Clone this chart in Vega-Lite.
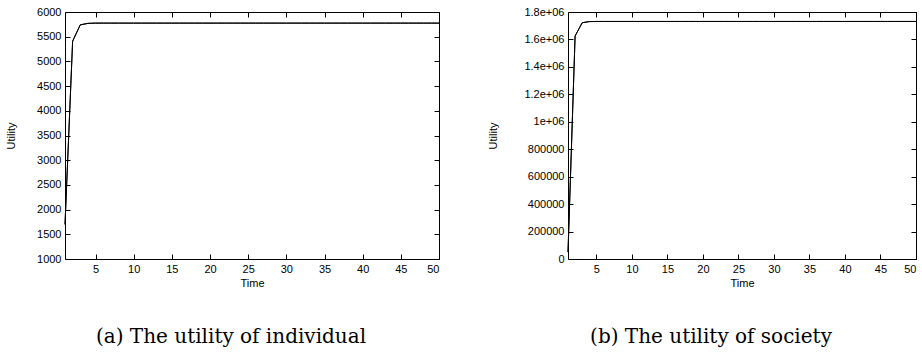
{
  "$schema": "https://vega.github.io/schema/vega-lite/v6.json",
  "background": "white",
  "padding": {"left": 5, "top": 5, "right": 5, "bottom": 0},
  "config": {
    "view": {"stroke": "black", "strokeWidth": 1},
    "font": "Liberation Sans",
    "axis": {
      "domain": false,
      "grid": false,
      "tickColor": "black",
      "tickSize": -5,
      "labelFont": "Liberation Sans",
      "labelFontSize": 11,
      "labelColor": "black",
      "titleFont": "Liberation Sans",
      "titleFontSize": 11,
      "titleFontWeight": "normal",
      "titleColor": "black",
      "labelPadding": 9
    },
    "title": {"font": "DejaVu Serif", "fontSize": 20, "fontWeight": "normal", "color": "black"}
  },
  "data": {"values": [
    {"t":1,"ind":1700,"soc":50000},
    {"t":2,"ind":5410,"soc":1625000},
    {"t":3,"ind":5740,"soc":1722000},
    {"t":4,"ind":5770,"soc":1730000},
    {"t":5,"ind":5775,"soc":1731000},
    {"t":6,"ind":5775,"soc":1731000},
    {"t":7,"ind":5775,"soc":1731000},
    {"t":8,"ind":5775,"soc":1731000},
    {"t":9,"ind":5775,"soc":1731000},
    {"t":10,"ind":5775,"soc":1731000},
    {"t":11,"ind":5775,"soc":1731000},
    {"t":12,"ind":5775,"soc":1731000},
    {"t":13,"ind":5775,"soc":1731000},
    {"t":14,"ind":5775,"soc":1731000},
    {"t":15,"ind":5775,"soc":1731000},
    {"t":16,"ind":5775,"soc":1731000},
    {"t":17,"ind":5775,"soc":1731000},
    {"t":18,"ind":5775,"soc":1731000},
    {"t":19,"ind":5775,"soc":1731000},
    {"t":20,"ind":5775,"soc":1731000},
    {"t":21,"ind":5775,"soc":1731000},
    {"t":22,"ind":5775,"soc":1731000},
    {"t":23,"ind":5775,"soc":1731000},
    {"t":24,"ind":5775,"soc":1731000},
    {"t":25,"ind":5775,"soc":1731000},
    {"t":26,"ind":5775,"soc":1731000},
    {"t":27,"ind":5775,"soc":1731000},
    {"t":28,"ind":5775,"soc":1731000},
    {"t":29,"ind":5775,"soc":1731000},
    {"t":30,"ind":5775,"soc":1731000},
    {"t":31,"ind":5775,"soc":1731000},
    {"t":32,"ind":5775,"soc":1731000},
    {"t":33,"ind":5775,"soc":1731000},
    {"t":34,"ind":5775,"soc":1731000},
    {"t":35,"ind":5775,"soc":1731000},
    {"t":36,"ind":5775,"soc":1731000},
    {"t":37,"ind":5775,"soc":1731000},
    {"t":38,"ind":5775,"soc":1731000},
    {"t":39,"ind":5775,"soc":1731000},
    {"t":40,"ind":5775,"soc":1731000},
    {"t":41,"ind":5775,"soc":1731000},
    {"t":42,"ind":5775,"soc":1731000},
    {"t":43,"ind":5775,"soc":1731000},
    {"t":44,"ind":5775,"soc":1731000},
    {"t":45,"ind":5775,"soc":1731000},
    {"t":46,"ind":5775,"soc":1731000},
    {"t":47,"ind":5775,"soc":1731000},
    {"t":48,"ind":5775,"soc":1731000},
    {"t":49,"ind":5775,"soc":1731000},
    {"t":50,"ind":5775,"soc":1731000}
  ]},
  "spacing": 45,
  "hconcat": [
    {
      "width": 374,
      "height": 247,
      "title": {"text": "(a) The utility of individual", "orient": "bottom", "offset": 39, "dx": -21},
      "resolve": {"axis": {"x": "independent", "y": "independent"}},
      "layer": [
        {
          "mark": {"type": "line", "color": "black", "strokeWidth": 1},
          "encoding": {
            "x": {"field": "t", "type": "quantitative", "scale": {"domain": [1, 50], "nice": false, "zero": false},
                  "axis": {"orient": "bottom", "title": "Time", "values": [5,10,15,20,25,30,35,40,45,50], "titlePadding": 3}},
            "y": {"field": "ind", "type": "quantitative", "scale": {"domain": [1000, 6000], "nice": false, "zero": false},
                  "axis": {"orient": "left", "title": "Utility", "values": [1000,1500,2000,2500,3000,3500,4000,4500,5000,5500,6000], "format": "d", "titlePadding": 20}}
          }
        },
        {
          "mark": {"type": "line", "color": "black", "strokeWidth": 1},
          "encoding": {
            "x": {"field": "t", "type": "quantitative",
                  "axis": {"orient": "top", "title": null, "labels": false, "values": [5,10,15,20,25,30,35,40,45,50]}},
            "y": {"field": "ind", "type": "quantitative",
                  "axis": {"orient": "right", "title": null, "labels": false, "values": [1000,1500,2000,2500,3000,3500,4000,4500,5000,5500,6000]}}
          }
        }
      ]
    },
    {
      "width": 348,
      "height": 247,
      "title": {"text": "(b) The utility of society", "orient": "bottom", "offset": 39, "dx": -31},
      "resolve": {"axis": {"x": "independent", "y": "independent"}},
      "layer": [
        {
          "mark": {"type": "line", "color": "black", "strokeWidth": 1},
          "encoding": {
            "x": {"field": "t", "type": "quantitative", "scale": {"domain": [1, 50], "nice": false, "zero": false},
                  "axis": {"orient": "bottom", "title": "Time", "values": [5,10,15,20,25,30,35,40,45,50], "titlePadding": 3}},
            "y": {"field": "soc", "type": "quantitative", "scale": {"domain": [0, 1800000], "nice": false},
                  "axis": {"orient": "left", "title": "Utility", "values": [0,200000,400000,600000,800000,1000000,1200000,1400000,1600000,1800000],
                           "labelExpr": "datum.value >= 1000000 ? format(datum.value / 1000000, '~g') + 'e+06' : format(datum.value, 'd')", "titlePadding": 25}}
          }
        },
        {
          "mark": {"type": "line", "color": "black", "strokeWidth": 1},
          "encoding": {
            "x": {"field": "t", "type": "quantitative",
                  "axis": {"orient": "top", "title": null, "labels": false, "values": [5,10,15,20,25,30,35,40,45,50]}},
            "y": {"field": "soc", "type": "quantitative",
                  "axis": {"orient": "right", "title": null, "labels": false, "values": [0,200000,400000,600000,800000,1000000,1200000,1400000,1600000,1800000]}}
          }
        }
      ]
    }
  ]
}
